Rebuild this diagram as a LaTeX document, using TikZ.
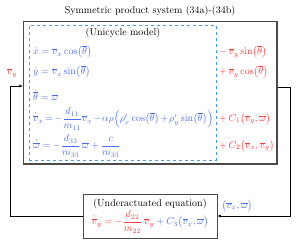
\documentclass[tikz,border=0pt]{standalone}
\usepackage{amsmath}
\usepackage{amssymb}
\usepackage{tikz}
\usetikzlibrary{arrows.meta,positioning,calc}
\definecolor{eqblue}{HTML}{4A6CF0}
\definecolor{eqred}{HTML}{FF3A3A}
\definecolor{dashblue}{HTML}{3E9BFF}
\definecolor{boxgray}{HTML}{4A4A4A}
\newcommand{\vb}{\overline{v}}
\newcommand{\thb}{\overline{\theta}}
\newcommand{\wb}{\overline{\omega}}
\tikzset{
  blueeq/.style={anchor=west,inner sep=0pt,text=eqblue},
  redeq/.style={anchor=west,inner sep=0pt,text=eqred},
  fbarrow/.style={-{Latex[length=3.5pt,width=3pt]},black,line width=0.6pt}
}

\begin{document}
\begin{tikzpicture}[x=1pt,y=-1pt]
    \useasboundingbox (0,0) rectangle (301,245);
    \node (title) at (150,11) {Symmetric product system (34a)-(34b)};
    \node[draw=boxgray,line width=1.2pt,minimum width=253.5pt,minimum height=142.5pt,
          inner sep=0pt] (sys) at (150.25,92.75) {};
    \node[draw=dashblue,dashed,line width=0.8pt,minimum width=187pt,minimum height=135pt,
          inner sep=0pt] (uni) at (122.5,92.5) {};
    \node (unilabel) at (123,33) {(Unicycle model)};
    % blue part: unicycle model
    \node[blueeq] (eqx) at (33,52) {$\dot{x}=\vb_x\cos\bigl(\thb\bigr)$};
    \node[blueeq] (eqy) at (33,72) {$\dot{y}=\vb_x\sin\bigl(\thb\bigr)$};
    \node[blueeq] (eqth) at (33,95) {$\dot{\thb}=\wb$};
    \node[blueeq] (eqvx) at (33,119) {\medmuskip=2mu\thickmuskip=3mu
      $\dot{\vb}_x=-\dfrac{d_{11}}{m_{11}}\vb_x-\alpha\rho\Bigl(\rho'_x\cos\bigl(\thb\bigr)+\rho'_y\sin\bigl(\thb\bigr)\Bigr)$};
    \node[blueeq] (eqw) at (33,146) {$\dot{\wb}=-\dfrac{d_{33}}{m_{33}}\,\wb+\dfrac{c}{m_{33}}$};
    % red part: coupling terms
    \node[redeq] (cx) at (219,52) {$-\,\vb_y\sin\bigl(\thb\bigr)$};
    \node[redeq] (cy) at (219,72) {$+\,\vb_y\cos\bigl(\thb\bigr)$};
    \node[redeq] (cvx) at (219,119) {$+\,C_1\bigl(\vb_y,\wb\bigr)$};
    \node[redeq] (cw) at (219,146) {$+\,C_2\bigl(\vb_x,\vb_y\bigr)$};
    \node[draw=boxgray,line width=0.9pt,minimum width=134pt,minimum height=44pt,
          inner sep=1pt,align=center] (under) at (150,216) {
      (Underactuated equation)\\[1pt]
      $\color{eqred}\dot{\vb}_y=-\dfrac{d_{22}}{m_{22}}\,\vb_y\color{eqblue}+C_3\bigl(\vb_x,\wb\bigr)$
    };
    \coordinate (fbL) at (10,86);
    \coordinate (fbR) at (290,87);
    \draw[fbarrow] (sys.east |- fbR) -- (fbR) |- (under.east);
    \draw[fbarrow] (under.west) -| (fbL) -- (fbL -| sys.west);
    \node[text=eqred] (vylabel) at (12,73) {$\vb_y$};
    \node[text=eqblue] (vxwlabel) at (237,206) {$\bigl(\vb_x,\wb\bigr)$};
  \end{tikzpicture}
\end{document}
